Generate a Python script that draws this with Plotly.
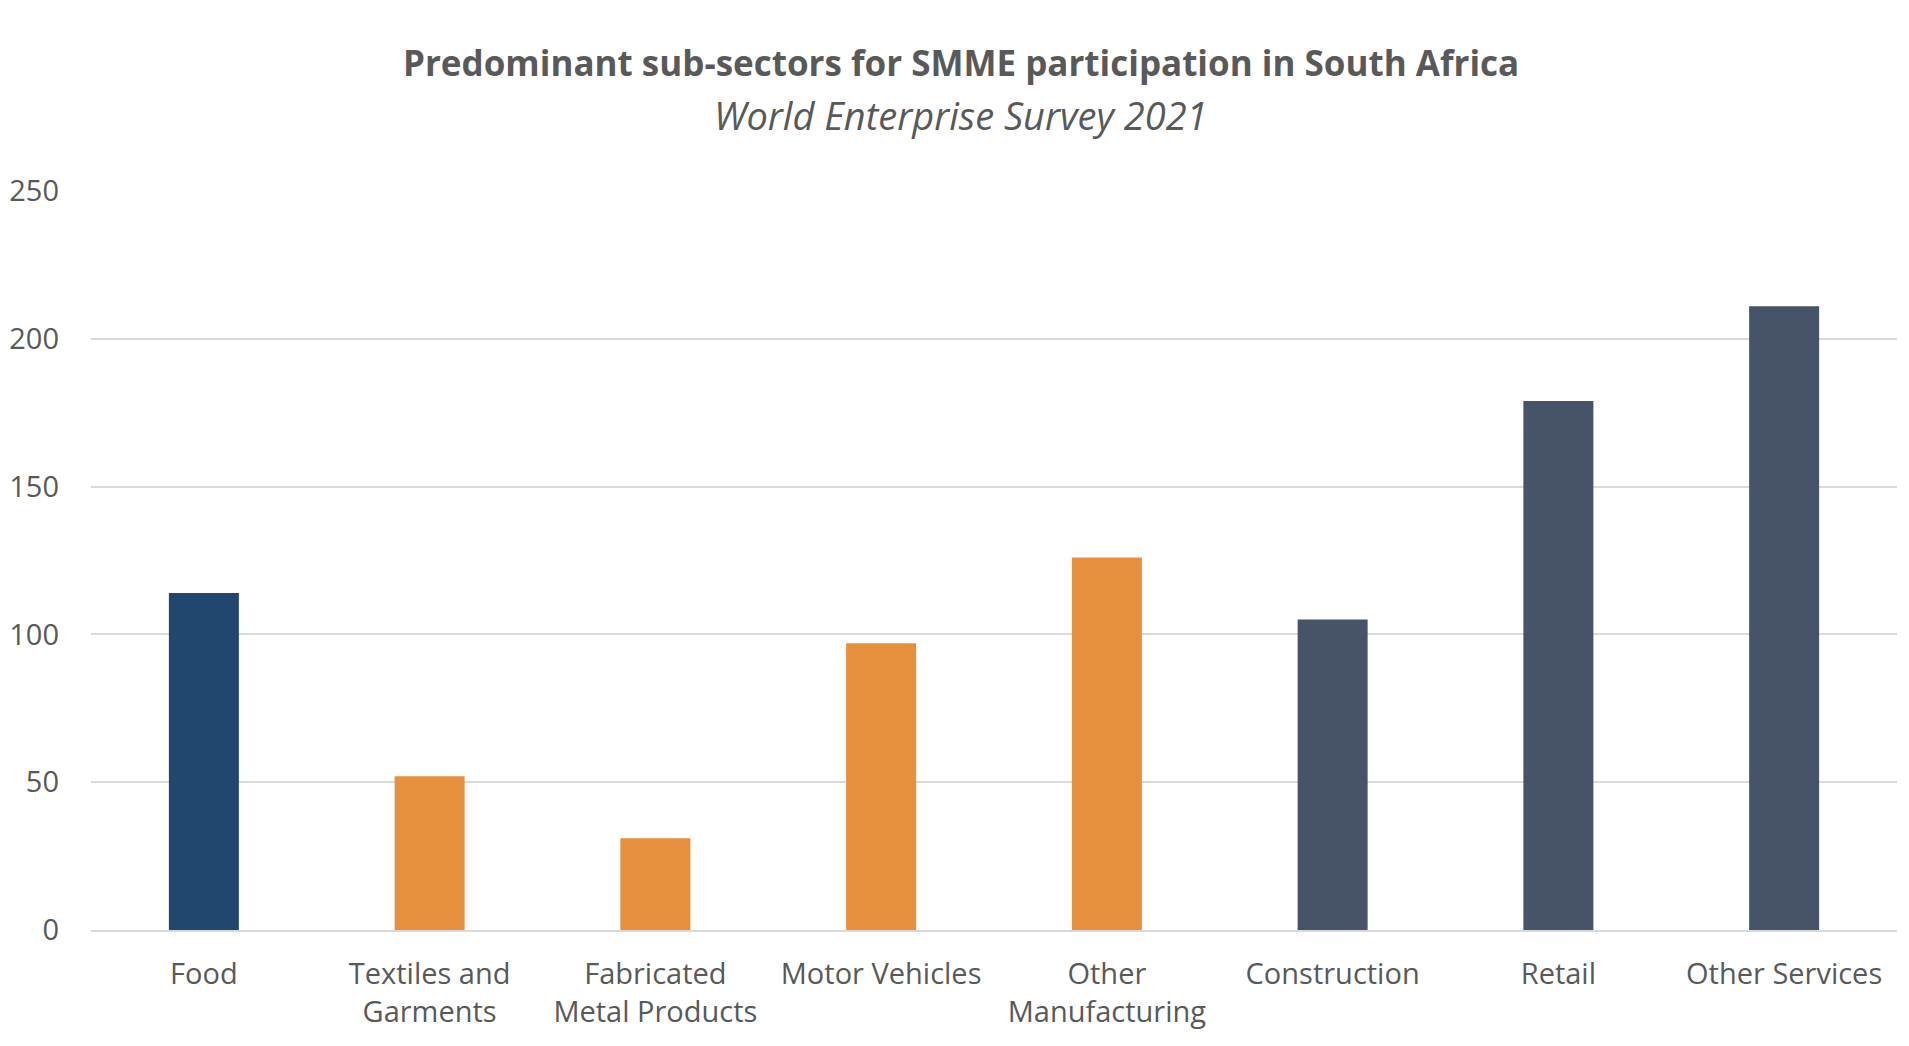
import plotly.graph_objects as go

categories = ["Food", "Textiles and<br>Garments", "Fabricated<br>Metal Products", "Motor Vehicles",
              "Other<br>Manufacturing", "Construction", "Retail", "Other Services"]
values = [114, 52, 31, 97, 126, 105, 179, 211]
groups = ["food", "manufacturing", "manufacturing", "manufacturing", "manufacturing",
          "services", "services", "services"]
y_ticks = [0, 50, 100, 150, 200, 250]

group_colors = {"food": "#22476F", "manufacturing": "#E68F3C", "services": "#465369"}
text_color = "#595959"
font_family = "Open Sans, Noto Sans, sans-serif"

fig = go.Figure(go.Bar(
    x=categories,
    y=values,
    marker=dict(color=[group_colors[g] for g in groups], line=dict(width=0)),
    width=0.31,
))

W, H = 1909, 1046
ml, mr, mt, mb = 91, 12, 191, 116
plot_w = W - ml - mr
plot_h = H - mt - mb

def ypaper(ypix):
    return (H - mb - ypix) / plot_h

def xpaper(xpix):
    return (xpix - ml) / plot_w

fig.update_layout(
    width=W,
    height=H,
    paper_bgcolor="white",
    plot_bgcolor="white",
    margin=dict(l=ml, r=mr, t=mt, b=mb, autoexpand=False),
    showlegend=False,
    font=dict(family=font_family, color=text_color, size=29),
    annotations=[
        dict(text="<b>Predominant sub-sectors for SMME participation in South Africa</b>",
             x=xpaper(961), y=ypaper(63), xref="paper", yref="paper", showarrow=False,
             xanchor="center", yanchor="middle",
             font=dict(size=35, color=text_color, family=font_family)),
        dict(text="<i>World Enterprise Survey 2021</i>",
             x=xpaper(961), y=ypaper(115), xref="paper", yref="paper", showarrow=False,
             xanchor="center", yanchor="middle",
             font=dict(size=38, color=text_color, family=font_family)),
    ],
)

fig.update_xaxes(
    automargin=False,
    showgrid=False,
    showline=True,
    linecolor="#D9D9D9",
    linewidth=2,
    ticks="",
    tickfont=dict(size=29, color=text_color),
    ticklabelstandoff=17,
)
fig.update_yaxes(
    automargin=False,
    range=[0, 250],
    tickvals=y_ticks,
    showgrid=True,
    gridcolor="#D9D9D9",
    gridwidth=2,
    zeroline=False,
    showline=False,
    ticks="",
    tickfont=dict(size=29, color=text_color),
    ticklabelstandoff=31,
)

fig.write_html("out.html")
